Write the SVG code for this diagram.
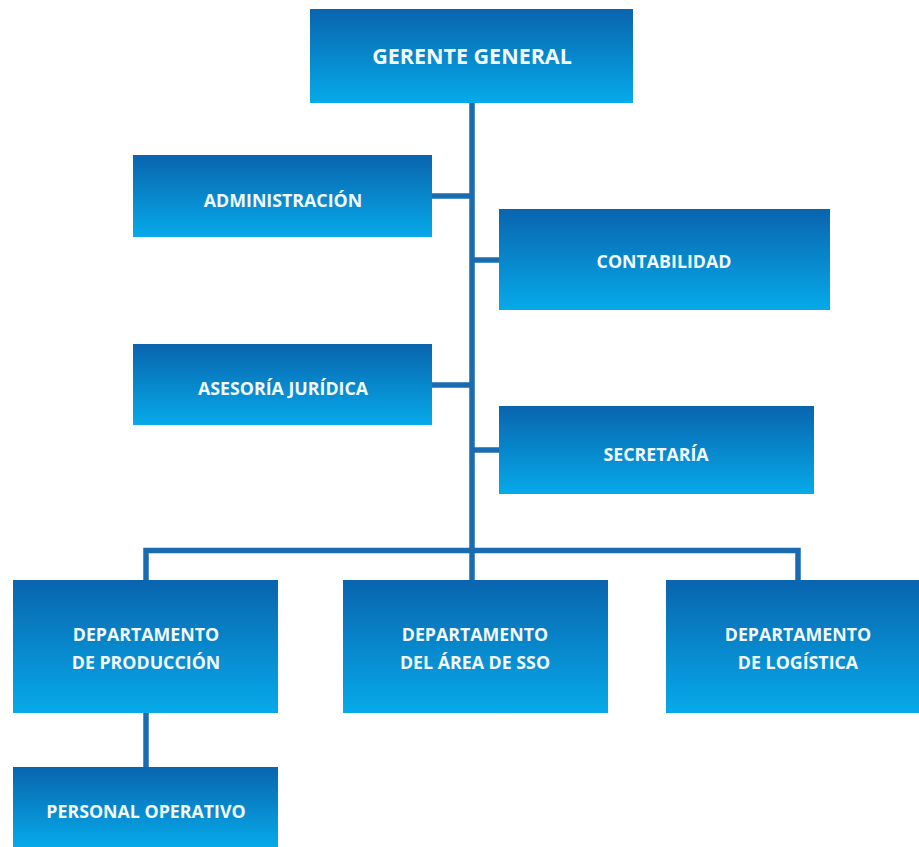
<svg xmlns="http://www.w3.org/2000/svg" width="919" height="847" viewBox="0 0 919 847">
<defs>
<linearGradient id="g" x1="0" y1="0" x2="0" y2="1">
<stop offset="0" stop-color="#0964ae"/>
<stop offset="1" stop-color="#06aae9"/>
</linearGradient>
<style>
.box{fill:url(#g);}
.t{font-family:"Open Sans","Liberation Sans",sans-serif;font-weight:700;fill:#f2f8fc;text-anchor:middle;font-size:17.8px;}
.big{font-size:21.5px;}
.c{stroke:#1a6cb0;stroke-width:5.5;fill:none;stroke-linecap:butt;}
</style>
</defs>
<rect width="919" height="847" fill="#ffffff"/>
<g id="connectors">
<path class="c" d="M472 103 V552"/>
<path class="c" d="M432 196 H472"/>
<path class="c" d="M472 260 H499"/>
<path class="c" d="M432 385 H472"/>
<path class="c" d="M472 450 H499"/>
<path class="c" d="M146 580 V550.5 H798 V580"/>
<path class="c" d="M472 550 V580"/>
<path class="c" d="M146 713 V767"/>
</g>
<g id="gerente"><rect class="box" x="310" y="9" width="323" height="94"/><text class="t big" x="472" y="64">GERENTE GENERAL</text></g>
<g id="administracion"><rect class="box" x="133" y="155" width="299" height="82"/><text class="t" x="283" y="207">ADMINISTRACIÓN</text></g>
<g id="contabilidad"><rect class="box" x="499" y="209" width="331" height="101"/><text class="t" x="664" y="268">CONTABILIDAD</text></g>
<g id="asesoria"><rect class="box" x="133" y="344" width="299" height="81"/><text class="t" x="283" y="395">ASESORÍA JURÍDICA</text></g>
<g id="secretaria"><rect class="box" x="499" y="406" width="315" height="88"/><text class="t" x="656" y="461">SECRETARÍA</text></g>
<g id="produccion"><rect class="box" x="13" y="580" width="265" height="133"/><text class="t" x="146" y="641">DEPARTAMENTO</text><text class="t" x="146" y="669">DE PRODUCCIÓN</text></g>
<g id="sso"><rect class="box" x="343" y="580" width="265" height="133"/><text class="t" x="475" y="641">DEPARTAMENTO</text><text class="t" x="475" y="669">DEL ÁREA DE SSO</text></g>
<g id="logistica"><rect class="box" x="666" y="580" width="253" height="133"/><text class="t" x="798" y="641">DEPARTAMENTO</text><text class="t" x="798" y="669">DE LOGÍSTICA</text></g>
<g id="personal"><rect class="box" x="13" y="767" width="265" height="80"/><text class="t" x="146" y="818">PERSONAL OPERATIVO</text></g>
</svg>
